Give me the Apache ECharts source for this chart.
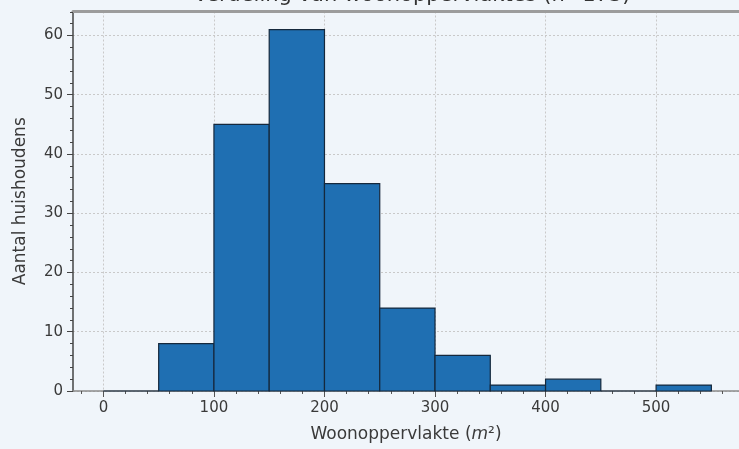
<!DOCTYPE html>
<html><head><meta charset="utf-8">
<script src="https://cdn.jsdelivr.net/npm/echarts@6/dist/echarts.min.js"></script>
<style>html,body{margin:0;padding:0;background:#f0f5fa}#c{width:739px;height:449px}</style>
</head><body><div id="c"></div>
<script>
const titleText = 'Verdeling van woonoppervlaktes (n=173)';
const binStarts = [0, 50, 100, 150, 200, 250, 300, 350, 400, 450, 500];
const binEnds = [50, 100, 150, 200, 250, 300, 350, 400, 450, 500, 550];
const counts = [0, 8, 45, 61, 35, 14, 6, 1, 2, 0, 1];
const xTicks = [0, 100, 200, 300, 400, 500];
const xMinorTicks = [-20, 20, 40, 60, 80, 120, 140, 160, 180, 220, 240, 260, 280, 320, 340, 360, 380, 420, 440, 460, 480, 520, 540, 560];
const yTicks = [0, 10, 20, 30, 40, 50, 60];
const yMinorTicks = [2, 4, 6, 8, 12, 14, 16, 18, 22, 24, 26, 28, 32, 34, 36, 38, 42, 44, 46, 48, 52, 54, 56, 58, 62, 64];

const chart = echarts.init(document.getElementById('c'), null, {renderer: 'canvas'});
const FONT = 'DejaVu Sans';
const gridDef = {left: 73, right: 0, top: 11.5, bottom: 58, containLabel: false};
const xRange = {min: -27.5, max: 575};
const yRange = {min: 0, max: 64.05};

chart.setOption({
  backgroundColor: '#f0f5fa',
  animation: false,
  title: {
    text: titleText, left: 407, top: -20, textAlign: 'center',
    textStyle: {fontFamily: FONT, fontSize: 21, fontWeight: 'normal', color: '#333'}
  },
  grid: gridDef,
  xAxis: [
    {
      type: 'value', position: 'bottom', ...xRange,
      axisLine: {show: true, onZero: false, lineStyle: {color: '#8a8a8a', width: 1.5}},
      axisTick: {show: true, customValues: xTicks, length: 6, lineStyle: {color: '#555', width: 1}},
      axisLabel: {customValues: xTicks, fontFamily: FONT, fontSize: 15, color: '#3a3a3a', margin: 10},
      splitLine: {show: true, lineStyle: {color: '#c9c9c9', type: [2, 2], width: 1}},
      name: 'Woonoppervlakte ({i|m}²)',
      nameLocation: 'middle', nameGap: 35,
      nameTextStyle: {fontFamily: FONT, fontSize: 17, color: '#3a3a3a',
        rich: {i: {fontFamily: FONT, fontSize: 17, fontStyle: 'italic', color: '#3a3a3a'}}}
    },
    {
      type: 'value', position: 'bottom', ...xRange,
      axisLine: {show: false, onZero: false},
      axisTick: {show: true, customValues: xMinorTicks, length: 3, lineStyle: {color: '#555', width: 1}},
      axisLabel: {show: false},
      splitLine: {show: false}
    },
    {
      type: 'value', position: 'top', ...xRange,
      axisLine: {show: true, onZero: false, lineStyle: {color: '#9c9c9c', width: 3}},
      axisTick: {show: false}, axisLabel: {show: false}, splitLine: {show: false}
    }
  ],
  yAxis: [
    {
      type: 'value', position: 'left', ...yRange,
      axisLine: {show: true, onZero: false, lineStyle: {color: '#444', width: 1.5}},
      axisTick: {show: true, customValues: yTicks, length: 6, lineStyle: {color: '#444', width: 1}},
      axisLabel: {customValues: yTicks, fontFamily: FONT, fontSize: 15, color: '#3a3a3a', margin: 10},
      splitLine: {show: true, lineStyle: {color: '#c9c9c9', type: [2, 2], width: 1}},
      name: 'Aantal huishoudens', nameLocation: 'middle', nameGap: 44, nameRotate: 90,
      nameTextStyle: {fontFamily: FONT, fontSize: 17, color: '#3a3a3a'}
    },
    {
      type: 'value', position: 'left', ...yRange,
      axisLine: {show: false, onZero: false},
      axisTick: {show: true, customValues: yMinorTicks, length: 3, lineStyle: {color: '#444', width: 1}},
      axisLabel: {show: false}, splitLine: {show: false}
    }
  ],
  series: [{
    type: 'custom',
    xAxisIndex: 0, yAxisIndex: 0,
    encode: {x: [0, 1], y: 2},
    data: binStarts.map((s, i) => [s, binEnds[i], counts[i]]),
    renderItem: function (params, api) {
      const p0 = api.coord([api.value(0), api.value(2)]);
      const p1 = api.coord([api.value(1), 0]);
      return {
        type: 'rect',
        shape: {x: p0[0], y: p0[1], width: p1[0] - p0[0], height: p1[1] - p0[1]},
        style: {fill: '#1f6fb2', stroke: '#15283c', lineWidth: 1.2}
      };
    }
  }]
});
</script></body></html>
